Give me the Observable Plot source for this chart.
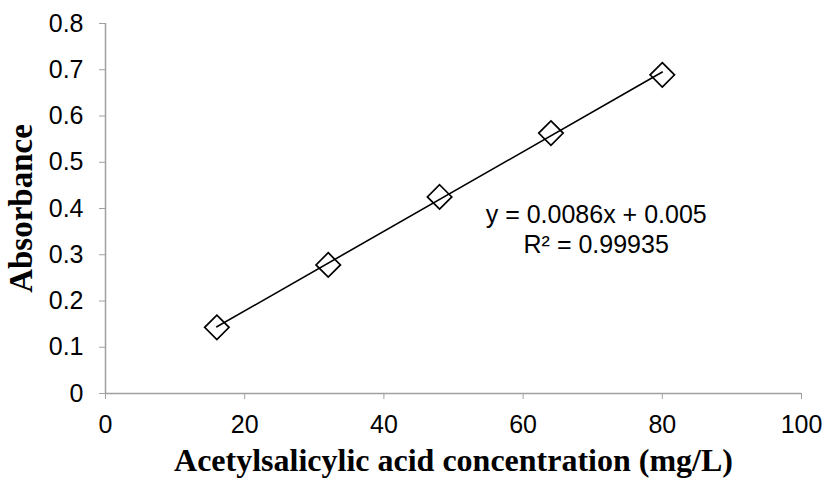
<!DOCTYPE html>
<html>
<head>
<meta charset="utf-8">
<script src="https://cdn.jsdelivr.net/npm/d3@7"></script>
<script src="https://cdn.jsdelivr.net/npm/@observablehq/plot@0.6"></script>
<style>
  html, body { margin: 0; padding: 0; background: #fff; }
  #chart svg { display: block; }
</style>
</head>
<body>
<div id="chart"></div>
<script>
const concentration = [16, 32, 48, 64, 80];
const absorbance = [0.143, 0.278, 0.425, 0.563, 0.689];
const xTicks = [0, 20, 40, 60, 80, 100];
const yTicks = [0, 0.1, 0.2, 0.3, 0.4, 0.5, 0.6, 0.7, 0.8];
const equationLines = ["y = 0.0086x + 0.005", "R² = 0.99935"];
const equationX = 70.5;
const equationY = [0.387, 0.322];
const xLabel = "Acetylsalicylic acid concentration (mg/L)";
const yLabel = "Absorbance";

const data = concentration.map((c, i) => ({x: c, y: absorbance[i]}));
const eq = equationLines.map((t, i) => ({t, x: equationX, y: equationY[i]}));

const axisColor = "#a0a0a0";
const sans = "'Liberation Sans', Arial, sans-serif";
const serif = "'Liberation Serif', 'Times New Roman', serif";

const plot = Plot.plot({
  width: 825,
  height: 484,
  marginLeft: 105,
  marginRight: 24,
  marginTop: 23,
  marginBottom: 91,
  style: {fontFamily: sans, fontSize: "25px", color: "#000", background: "#fff"},
  x: {domain: [0, 100], ticks: xTicks, label: null},
  y: {domain: [0, 0.8], ticks: yTicks, label: null},
  marks: [
    Plot.axisX({ticks: xTicks, tickSize: 6, stroke: axisColor, tickPadding: 16, fontSize: 25, fill: "#000", label: null}),
    Plot.axisY({ticks: yTicks, tickSize: 6, stroke: axisColor, tickPadding: 16, fontSize: 25, fill: "#000", label: null, tickFormat: d => String(+d.toFixed(1))}),
    Plot.ruleY([0], {stroke: axisColor, strokeWidth: 1.5}),
    Plot.ruleX([0], {stroke: axisColor, strokeWidth: 1.5}),
    Plot.linearRegressionY(data, {x: "x", y: "y", stroke: "#000", strokeWidth: 1.6, ci: 0}),
    Plot.dot(data, {x: "x", y: "y", symbol: "diamond2", r: 11, stroke: "#000", fill: "none", strokeWidth: 1.7}),
    Plot.text(eq, {x: "x", y: "y", text: "t", fontSize: 25, fill: "#000", fontFamily: sans}),
    Plot.text([xLabel], {frameAnchor: "bottom", dy: 77, fontSize: 32, fontWeight: "bold", fontFamily: serif, fill: "#000"}),
    Plot.text([yLabel], {frameAnchor: "left", textAnchor: "middle", dx: -84, rotate: -90, fontSize: 33, fontWeight: "bold", fontFamily: serif, fill: "#000"})
  ]
});
document.getElementById("chart").append(plot);
</script>
</body>
</html>
